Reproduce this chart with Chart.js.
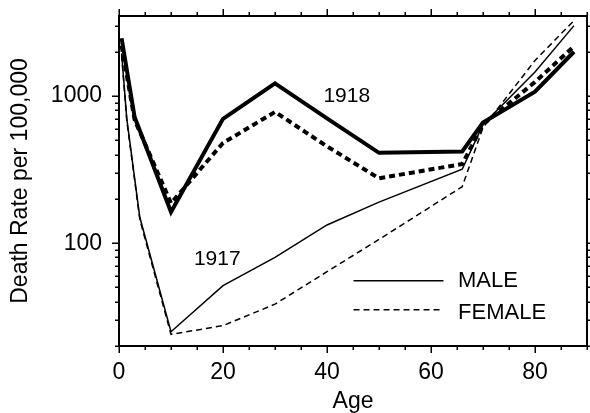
<!DOCTYPE html>
<html><head><meta charset="utf-8">
<script src="https://cdn.jsdelivr.net/npm/chart.js@4/dist/chart.umd.min.js"></script>
<style>html,body{margin:0;padding:0;background:#fff}#wrap{width:590px;height:413px;position:relative}</style>
</head><body><div id="wrap"><canvas id="c"></canvas></div>
<script>
// ---- data ----
const ages1918Male   = [0.5, 3, 10, 20, 30, 40, 50, 66, 70, 80, 87.5];
const rates1918Male  = [2470, 720, 163, 700, 1220, 705, 411, 420, 660, 1070, 2000];
const ages1918Female = [0.5, 3, 10, 20, 30, 40, 50, 66, 70, 80, 87.5];
const rates1918Female= [2200, 690, 187, 480, 780, 455, 276, 345, 640, 1245, 2180];
const ages1917Male   = [0.5, 1.5, 4, 10, 20, 30, 40, 50, 66, 70, 80, 87.5];
const rates1917Male  = [1950, 700, 150, 25, 51.5, 80, 133, 190, 318, 640, 1455, 3010];
const ages1917Female = [0.5, 1.5, 4, 10, 20, 30, 40, 50, 66, 70, 80, 87.5];
const rates1917Female= [1900, 680, 145, 24, 27.5, 38.5, 64, 106, 242, 610, 1745, 3260];

const xLabeledTicks = [0, 20, 40, 60, 80];
const xAllTicks = [0,5,10,15,20,25,30,35,40,45,50,55,60,65,70,75,80,85,90];
const yLabeledTicks = [100, 1000];
const yAllTicks = [20,30,40,50,60,70,80,90,100,200,300,400,500,600,700,800,900,1000,2000,3000];

const yearLabels = [{text:'1918', age:43.8, rate:1000}, {text:'1917', age:18.9, rate:78}];
const legendItems = [{text:'MALE', dash:[]}, {text:'FEMALE', dash:[6,4]}];

const FONT = '"Liberation Sans", Arial, sans-serif';
const pts = (a, r) => a.map((v, i) => ({x: v, y: r[i]}));

const framePlugin = {
  id: 'frame',
  afterDraw(chart) {
    const {ctx, chartArea: a, scales: {x, y}} = chart;
    ctx.save();
    ctx.strokeStyle = '#000';
    ctx.lineWidth = 2;
    ctx.beginPath();
    ctx.moveTo(a.left - 1, a.top); ctx.lineTo(a.right + 1, a.top);
    ctx.moveTo(a.right, a.top); ctx.lineTo(a.right, a.bottom + 1);
    ctx.stroke();
    ctx.lineWidth = 1.5;
    ctx.beginPath();
    xAllTicks.forEach(v => {
      const px = Math.round(x.getPixelForValue(v)) + 0.25;
      const len = xLabeledTicks.includes(v) ? 7 : 4;
      ctx.moveTo(px, a.top); ctx.lineTo(px, a.top - len);
      ctx.moveTo(px, a.bottom); ctx.lineTo(px, a.bottom + len);
    });
    yAllTicks.forEach(v => {
      const py = Math.round(y.getPixelForValue(v)) + 0.25;
      const len = yLabeledTicks.includes(v) ? 7 : 4;
      ctx.moveTo(a.left, py); ctx.lineTo(a.left - len, py);
      ctx.moveTo(a.right, py); ctx.lineTo(a.right + len, py);
    });
    ctx.stroke();

    // year annotations
    ctx.fillStyle = '#000';
    ctx.font = '21px ' + FONT;
    ctx.textAlign = 'center';
    ctx.textBaseline = 'middle';
    yearLabels.forEach(l => ctx.fillText(l.text, x.getPixelForValue(l.age), y.getPixelForValue(l.rate)));

    // legend
    const legRates = [55.6, 35.3];
    const x0 = x.getPixelForValue(45.1), x1 = x.getPixelForValue(62.4), xt = x.getPixelForValue(65.2);
    ctx.font = '22px ' + FONT;
    ctx.textAlign = 'left';
    legendItems.forEach((it, i) => {
      const py = y.getPixelForValue(legRates[i]);
      ctx.lineWidth = 1.5;
      ctx.setLineDash(it.dash);
      ctx.beginPath(); ctx.moveTo(x0, py); ctx.lineTo(x1, py); ctx.stroke();
      ctx.setLineDash([]);
      ctx.fillText(it.text, xt, py + (i ? 3 : 0));
    });
    ctx.restore();
  }
};

const common = {fill: false, pointRadius: 0, tension: 0, borderColor: '#000', borderCapStyle: 'butt', borderJoinStyle: 'miter'};

new Chart(document.getElementById('c'), {
  type: 'line',
  data: {
    datasets: [
      {...common, label: '1918 MALE', data: pts(ages1918Male, rates1918Male), borderWidth: 4},
      {...common, label: '1918 FEMALE', data: pts(ages1918Female, rates1918Female), borderWidth: 4, borderDash: [6, 4]},
      {...common, label: '1917 MALE', data: pts(ages1917Male, rates1917Male), borderWidth: 1.5},
      {...common, label: '1917 FEMALE', data: pts(ages1917Female, rates1917Female), borderWidth: 1.5, borderDash: [6, 4]}
    ]
  },
  options: {
    responsive: true,
    maintainAspectRatio: false,
    animation: false,
    devicePixelRatio: 1,
    layout: {padding: {top: 16, right: 3, left: 0, bottom: 0}},
    plugins: {legend: {display: false}, tooltip: {enabled: false}},
    scales: {
      x: {
        type: 'linear', min: 0, max: 90,
        afterBuildTicks: s => { s.ticks = xAllTicks.map(v => ({value: v})); },
        afterFit: s => { s.height = 67; s.paddingLeft = 0; s.paddingRight = 0; },
        ticks: {autoSkip: false, maxRotation: 0, padding: 6, color: '#000',
          font: {family: FONT, size: 23},
          callback: v => xLabeledTicks.includes(v) ? String(v) : ''},
        grid: {display: true, drawOnChartArea: false, drawTicks: true, tickLength: 7, color: 'rgba(0,0,0,0)'},
        border: {display: true, color: '#000', width: 2},
        title: {display: true, text: 'Age', color: '#000', font: {family: FONT, size: 23, lineHeight: 1}, padding: {top: 0, bottom: 0}}
      },
      y: {
        type: 'logarithmic', min: 20, max: 3500,
        afterBuildTicks: s => { s.ticks = yAllTicks.map(v => ({value: v})); },
        afterFit: s => { s.width = 119; s.paddingTop = 0; s.paddingBottom = 0; },
        ticks: {autoSkip: false, padding: 10, color: '#000',
          font: {family: FONT, size: 23},
          callback: v => yLabeledTicks.includes(v) ? String(v) : ''},
        grid: {display: true, drawOnChartArea: false, drawTicks: true, tickLength: 7, color: 'rgba(0,0,0,0)'},
        border: {display: true, color: '#000', width: 2},
        title: {display: true, text: 'Death Rate per 100,000', color: '#000', font: {family: FONT, size: 23, lineHeight: 1}, padding: {top: 9.5, bottom: 0}}
      }
    }
  },
  plugins: [framePlugin]
});
</script></body></html>
